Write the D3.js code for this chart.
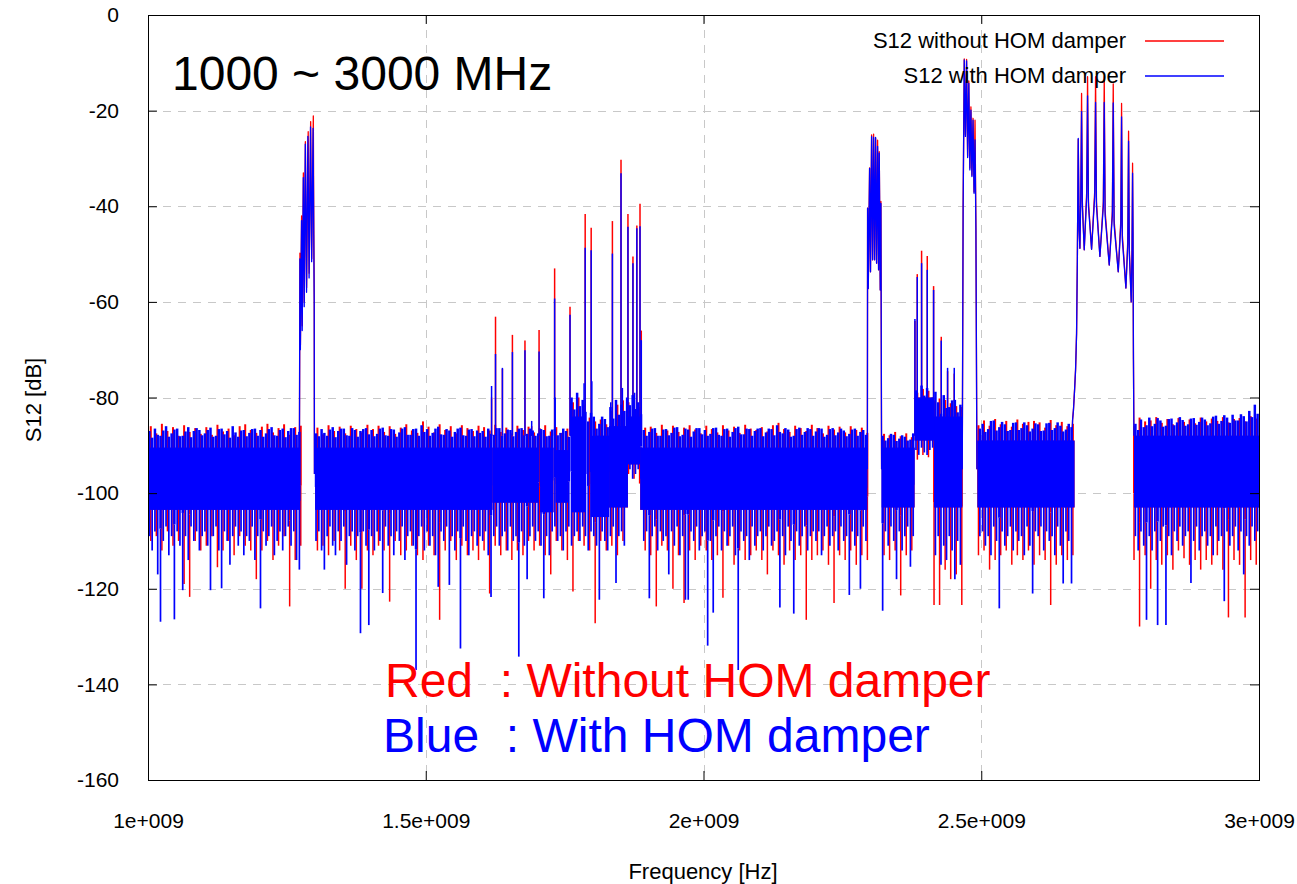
<!DOCTYPE html>
<html>
<head>
<meta charset="utf-8">
<script src="https://cdn.jsdelivr.net/npm/d3@7"></script>
<style>
  body { margin: 0; background: #fff; }
  svg text { font-family: Arial, "Liberation Sans", sans-serif; }
</style>
</head>
<body>
<svg id="chart" width="1297" height="884"></svg>
<script>
// axis ticks
const xTickValues = [1000, 1500, 2000, 2500, 3000];          // MHz
const xTickLabels = ["1e+009", "1.5e+009", "2e+009", "2.5e+009", "3e+009"];
const yTicks = [0, -20, -40, -60, -80, -100, -120, -140, -160];

// noise floor, top and bottom of the trace in each bin (dB), bins start at 1000 MHz
const binStart = 1000;
// with damper: 5 MHz bins, one row = 100 MHz
const blueStep = 5;
const blueHi = [
  -87, -88.4, -86.5, -87.8, -88, -86.9, -86, -88.2, -87.5, -86.7, -86.5, -88.1, -88, -87.1, -86.2, -88.3, -87, -86.4, -86.8, -87.9,
  -87.5, -86.8, -86.3, -88.2, -88, -86.6, -86.5, -87.7, -87, -88.4, -86, -87.3, -88.2, -86.9, -86.8, -88.1, -87.4, -86.6, -86.5, -88,
  -86.8, -88.2, -87.5, -86.6, -86.2, -87.9, -88, -86.8, -86.5, -88.3, -87, -86.4, -86.4, -87.8, -87.2, null, null, null, null, null,
  -87.5, -88.1, -86.6, -87.4, -88, -86.7, -86.2, -88.3, -87, -86.5, -86.5, -87.9, -88, -86.4, -86.8, -88.2, -87, -86.6, -86.4, -87.7,
  -86.8, -88.1, -87.6, -86.5, -86.3, -87.9, -88, -86.6, -86.7, -88.2, -87.3, -86.5, -86.2, -87.8, -87.8, -86.6, -86.5, -88, -85.8, -87.2,
  -86.6, -88, -87.4, -86.5, -86.1, -87.7, -87.8, -86.6, -86.9, -88.2, -87.2, -86.5, -86.3, -87.9, -88, -86.7, -86.6, -88.1, -86.9, -87.4,
  -87, -88.2, -86.5, -87.6, -87.8, -86.4, -86.4, -88, -87.5, -86.7, -86.8, -88.1, -87.2, -86.5, -86.4, -87.9, -87.6, -86.5, -86.9, -88,
  -87.5, -86.6, -86.8, -88.1, -88, -86.7, -86.6, -87.9, -87.4, -86.5, -87, -88.2, -80, -82.5, -79, -81.8, -80.5, -83, -85, -83.2,
  -84, -86.5, -85.5, -84, -84.5, -86.2, -82, -84.4, -80.5, -83.6, -81.5, -82.8, -80, -81.6, -79.5, -82.4, -81, -83.5, -86.8, -88,
  -87.2, -86.5, -86.4, -88, -88, -86.7, -86.6, -87.9, -87.4, -86.3, -86.2, -88.1, -87.8, -86.5, -86.7, -88.2, -87.1, -86.4, -86.4, -87.7,
  -86.8, -88, -87.6, -86.4, -86.3, -87.8, -88, -86.6, -86.5, -88.2, -87.2, -86.4, -86.1, -87.7, -87.7, -86.5, -86.6, -88, -87, -86.5,
  -86.4, -88.1, -87.3, -86.5, -86.6, -87.9, -85.8, -87.2, -87.5, -86.4, -86.7, -88.2, -88, -86.6, -86.3, -87.8, -87.2, -86.4, -86.6, -88,
  -87.1, -86.4, -86.5, -88.2, -87.8, -86.6, -86.4, -87.9, -87.3, -86.5, -86.9, -88.1, -87.6, -86.7, -86.5, -88, -87.2, -86.8, -87.8, null,
  null, null, null, null, -88, -89, -88.5, -87.6, -87.8, -89.1, -88.6, -87.9, -88.2, -89, -88.8, -87.5, -78.5, -80.2, -77.5, -79.6,
  -78, -80.4, -80, -78.8, -81, -83.4, -79.5, -82.2, -82, -80.6, -80.5, -83.1, -81.5, null, null, null, null, null, null, -86.5,
  -85.5, -87.2, -86.6, -84.9, -84.8, -86.9, -86.2, -85.1, -85.6, -87, -86.8, -85.3, -85.2, -86.8, -86.4, -85.2, -85.8, -87.1, -86.5, -85.4,
  -85.6, -87, -86.9, -85.4, -85.3, -86.8, -86.4, -85.2, -85.9, -87.1, -86.7, -85.5, -86.2, null, null, null, null, null, null, null,
  null, null, null, null, null, null, null, null, null, null, null, null, null, null, null, -85.5, -86.8, -84.6, -86.2, -85.8,
  -84.2, -86, -85.5, -84.3, -84.8, -86.1, -85.9, -84.5, -84.4, -85.8, -85.2, -84.1, -84.7, -85.9, -85.6, -84.4, -84.3, -85.7, -85.1, -84.2,
  -84.6, -85.8, -85.4, -84, -83.8, -85.5, -84.9, -83.7, -84.2, -85.3, -83.6, -84.8, -84.8, -83.5, -83.9, -85, -82.8, -84.1, -81.5, -83.4
];
const blueLo = [
  -109, -112, -108, -117, -126.9, -110, -107, -113, -109, -126.4, -108, -111, -120.3, -109, -114, -107, -110, -108, -112, -109,
  -108, -111, -120.3, -109, -107, -112, -119.9, -108, -110, -115, -109, -107, -111, -108, -113, -109, -110, -107, -114, -109,
  -124.1, -108, -111, -109, -107, -113, -110, -108, -112, -109, -107, -111, -108, -114, -116, null, null, null, null, null,
  -110, -108, -112, -116, -109, -107, -111, -113, -108, -110, -107, -115, -109, -108, -112, -109, -129.3, -108, -111, -127.6,
  -109, -112, -108, -110, -120.9, -107, -111, -109, -113, -108, -110, -107, -114, -109, -108, -111, -137, -109, -107, -112,
  -108, -111, -109, -113, -119.6, -108, -110, -107, -119.2, -109, -112, -108, -132.5, -107, -110, -113, -109, -108, -111, -109,
  -110, -108, -113, -121.7, -109, -107, -111, -109, -108, -112, -107, -110, -109, -134.2, -108, -111, -118, -109, -107, -110,
  -108, -111, -122, -109, -113, -108, -107, -110, -109, -112, -108, -107, -111, -109, -108, -110, -107, -109, -112, -108,
  -109, -111, -122.3, -108, -110, -112, -109, -107, -118.8, -109, -108, -111, -96, -95, -97, -96, -95, -97, -110, -108,
  -122, -109, -107, -112, -108, -110, -109, -117, -108, -111, -107, -113, -109, -122.3, -122.3, -108, -110, -107, -112, -109,
  -108, -131.9, -110, -125, -109, -107, -112, -108, -111, -109, -107, -113, -137, -108, -110, -109, -114, -107, -111, -109,
  -108, -112, -109, -107, -111, -110, -108, -123.9, -109, -113, -107, -110, -125.2, -108, -111, -109, -107, -112, -109, -108,
  -110, -108, -113, -109, -107, -111, -109, -108, -112, -107, -110, -109, -121.3, -108, -111, -109, -120, -107, -110, null,
  null, null, null, null, -124.6, -108, -111, -107, -110, -118, -108, -112, -109, -107, -115.4, -109, -91, -92, -90.5, -91.5,
  -92, -91, -90.5, -113, -109, -115, -111, -114, -109, -112, -118, -110, -115, null, null, null, null, null, null, -109,
  -108, -111, -109, -113, -107, -110, -124.1, -108, -111, -109, -107, -112, -108, -110, -109, -113, -107, -111, -121, -108,
  -109, -107, -112, -108, -110, -109, -113, -107, -111, -118.9, -108, -110, -118.9, null, null, null, null, null, null, null,
  null, null, null, null, null, null, null, null, null, null, null, null, null, null, null, -109, -112, -108, -111, -126.5,
  -109, -112, -108, -127.6, -110, -107, -127.6, -109, -113, -108, -110, -107, -111, -109, -108, -118.8, -110, -107, -112, -109,
  -108, -111, -109, -113, -107, -110, -109, -122.6, -108, -111, -109, -107, -112, -108, -117, -109, -111, -107, -110, -108
];
// without damper: 10 MHz bins, one row = 100 MHz
const redStep = 10;
const redHi = [
  -86, -87.5, -85.5, -87, -86.2, -88, -85.8, -87.2, -86.4, -87.6,
  -86.2, -87.8, -85.7, -87.1, -86.5, -87.9, -86, -85.6, -86.8, -87.4,
  -86.1, -85.5, -87.3, -86.4, -85.6, -87.8, -86.2, -85.9, null, null,
  -86.3, -87.7, -85.8, -87, -86.1, -87.5, -85.9, -86.6, -87.3, -85.7,
  -86.6, -85.9, -87.2, -86, -87.6, -86.3, -85.6, -86.9, -87.4, -85,
  -86.1, -87.3, -85.6, -86.8, -86, -87.5, -85.8, -86.4, -87, -85.9,
  -86.2, -86.9, -85.7, -87.2, -86.3, -87.5, -85.9, -86.8, -86.1, -87.3,
  -86.4, -85.8, -87.1, -86.2, -87.4, -86.5, -81, -80, -81.5, -84.2,
  -85, -84.6, -85.6, -82.8, -81.5, -80.6, -81, -80.5, -82, -86.3,
  -86.1, -87.4, -85.7, -86.9, -85.9, -87.2, -86.3, -85.8, -86.7, -87.5,
  -85.9, -86.6, -87.3, -85.8, -86.9, -86.1, -87.4, -85.7, -86.5, -86.8,
  -86.2, -87.1, -85.8, -85.3, -86.6, -87.2, -85.9, -86.4, -87, -85.7,
  -86.4, -87.5, -85.9, -86.7, -86.1, -87.3, -86, -86.8, -86.3, -87.4,
  null, null, -87.6, -87.9, -87.2, -88.1, -87.5, -88.3, -79, -78.2,
  -78.6, -80.6, -80.2, -80.5, -81.2, -81.8, -82, null, null, -85.8,
  -84.8, -85.9, -84.5, -85.6, -84.9, -86.1, -84.6, -85.5, -85.1, -84.9,
  -85.2, -86.3, -84.7, -85.8, -85.1, -86, -85.5, null, null, null,
  null, null, null, null, null, null, null, -86, -84.2, -85,
  -84.8, -84.1, -85.3, -84.5, -85.6, -84.3, -85.1, -84.6, -85.4, -84.2,
  -85, -84.4, -84.9, -84.1, -85.2, -84.5, -84.3, -85, -83.9, -84.4
];
const redLo = [
  -110, -109, -112, -108, -111, -110, -119, -121.7, -110, -112,
  -111, -109, -115.5, -112, -110, -113, -109, -111, -112, -118,
  -112, -110, -114, -111, -109, -123.7, -114, -111, null, null,
  -112, -111, -113, -110, -112, -120, -111, -114, -120, -112,
  -113, -111, -112, -122.7, -110, -113, -112, -111, -113, -114,
  -111, -113, -126.5, -112, -110, -114, -111, -113, -112, -114,
  -112, -121, -111, -113, -112, -114, -112, -113, -110, -112,
  -111, -113, -117, -110, -112, -114, -120.6, -110, -111, -112,
  -127.2, -110, -112, -111, -113, -110, -96, -97, -98, -112,
  -113, -123.7, -111, -112, -120, -113, -123, -112, -114, -111,
  -112, -114, -113, -121.9, -111, -115, -112, -114, -113, -112,
  -114, -117, -112, -113, -115, -112, -114, -113, -126.5, -114,
  -113, -112, -115, -123, -113, -114, -112, -115, -113, -114,
  null, null, -113, -114, -112, -121.4, -113, -112, -93, -92,
  -92.5, -123.4, -123.4, -116, -118, -117, -123.4, null, null, -113,
  -112, -116, -114, -113, -112, -115, -113, -114, -112, -115,
  -113, -114, -123.4, -115, -113, -114, -113, null, null, null,
  null, null, null, null, null, null, null, -114, -127.9, -113,
  -120, -114, -115, -113, -116, -112, -113.6, -115, -114, -116,
  -114, -115, -113, -116, -126, -114, -115, -126, -114, -115
];

// solid part of the noise floor: [from MHz, to MHz, top dB, bottom dB]
const coreBands = [
  [1000, 1274, -90.5, -103.5], [1301, 1620, -90.5, -103.5], [1620, 1702, -90.5, -102],
  [1706, 1730, -90.5, -104], [1734, 1756, -91, -102], [1763, 1787, -84, -104],
  [1797, 1830, -88, -105], [1830, 1864, -86, -103], [1864, 1886, -84, -94],
  [1886, 2295, -90.5, -103.5], [2321, 2380, -90.5, -103], [2380, 2415, -80, -89],
  [2415, 2466, -84, -103], [2493, 2668, -89, -103], [2775, 3000, -88, -103]
];

// resonance groups, [MHz, dB] along the trace
const redMode128 = [[1272.5,-96],[1273.5,-49.8],[1274.4,-69],[1276.5,-42],[1277.7,-65],[1279.7,-33],[1281.3,-60],[1283.3,-26.5],[1285.5,-57],[1288.4,-24.4],[1290.1,-54],[1292.8,-22.3],[1294.7,-51],[1297.6,-21.1],[1298.5,-45],[1299.3,-60],[1299.7,-96]];
const blueMode128 = [[1272.5,-96],[1273.4,-51],[1274.3,-70],[1276.4,-43],[1277.6,-66],[1279.6,-34],[1281.2,-61],[1283.2,-27],[1285.4,-58],[1287.8,-25.4],[1290,-55],[1292.6,-23.4],[1294.6,-51.6],[1297.2,-23.7],[1298.4,-46],[1299.2,-60],[1299.6,-96]];
const redMode230 = [[2295,-95],[2295.4,-40.4],[2296.6,-57.2],[2299,-32],[2300.6,-53.7],[2302.6,-25.1],[2304.4,-51.2],[2306.2,-24.9],[2308,-51.2],[2309.8,-25.8],[2311.6,-51.9],[2313.4,-26.2],[2315.2,-53.3],[2316.4,-28.6],[2318.2,-57.5],[2319.4,-39],[2320.6,-95]];
const blueMode230 = [[2295,-95],[2295.4,-40.4],[2296.6,-57.2],[2299,-32.1],[2300.6,-53.7],[2302.6,-25.4],[2304.4,-51.2],[2306.2,-25.6],[2308,-51.2],[2309.8,-25.6],[2311.6,-51.9],[2313.4,-27.5],[2315.2,-53.3],[2316.4,-28.9],[2318.2,-57.5],[2319.4,-39.4],[2320.6,-95]];
const redMode247 = [[2465.8,-95],[2467.4,-40],[2469.4,-9.2],[2471.5,-25],[2473.6,-9.3],[2475.5,-29.5],[2477.6,-13.8],[2479.5,-32],[2481.4,-19.2],[2483.2,-33.5],[2485.2,-21.6],[2487,-37],[2488.8,-22],[2490.4,-44.5],[2492.2,-95]];
const blueMode247 = [[2465.8,-95],[2467.4,-40],[2469.4,-9.4],[2471.5,-25.4],[2473.6,-9.6],[2475.5,-29.8],[2477.6,-14.3],[2479.5,-32.4],[2481.4,-19.9],[2483.2,-33.8],[2485.2,-22],[2487,-37.3],[2488.8,-26.1],[2490.4,-45],[2492.2,-95]];
const redMode272 = [[2663,-90],[2664.4,-84.7],[2666,-82.6],[2668,-78.4],[2669.8,-74.2],[2670.8,-70.1],[2671.6,-66.6],[2673,-51.2],[2674.6,-26],[2676.2,-45],[2677.6,-48.8],[2679.2,-37],[2680.6,-16.4],[2682,-39],[2685.4,-49.1],[2689.8,-37],[2691.4,-12.9],[2693,-39],[2698.6,-49],[2704.2,-37],[2705.8,-12.9],[2707.4,-39],[2713.6,-50.5],[2719.8,-39],[2721.4,-12.9],[2723,-41],[2730.4,-52.3],[2736,-41],[2737.6,-14.4],[2739.2,-43],[2746.6,-53.7],[2751.2,-43],[2752.6,-18.5],[2754,-46],[2760.4,-57.1],[2763.8,-47],[2765.2,-24.3],[2766.6,-49],[2770,-60],[2771.4,-49],[2772.4,-31],[2773.2,-45.6],[2774,-72],[2774.8,-88]];
const blueMode272 = [[2663,-90],[2664.4,-84.7],[2666,-82.6],[2668,-78.4],[2669.8,-74.2],[2670.8,-70.1],[2671.6,-66.6],[2673,-51.2],[2674.6,-25.8],[2676.2,-45],[2677.6,-48.8],[2679.2,-38],[2680.6,-20.2],[2682,-40],[2685.4,-49.1],[2689.8,-38],[2691.4,-16.9],[2693,-40],[2698.6,-49],[2704.2,-38],[2705.8,-18.3],[2707.4,-40],[2713.6,-50.5],[2719.8,-40],[2721.4,-18.3],[2723,-42],[2730.4,-52.3],[2736,-42],[2737.6,-18.4],[2739.2,-44],[2746.6,-53.7],[2751.2,-44],[2752.6,-21.3],[2754,-47],[2760.4,-57.1],[2763.8,-48],[2765.2,-26.4],[2766.6,-50],[2770,-60],[2771.4,-50],[2772.4,-33.1],[2773.2,-45.6],[2774,-72],[2774.8,-88]];

// isolated narrow peaks above the floor, [MHz, tip dB]
const redSpikes = [[1618.5,-80],[1625.6,-63.1],[1638,-74],[1656,-66.9],[1678.6,-68.1],[1690.7,-86],[1704,-65.9],[1732,-53],[1759.7,-61],[1787,-41.6],[1797.8,-44.5],[1836,-43.1],[1851.5,-30.3],[1864,-41.6],[1873,-50.5],[1880,-44],[1885.7,-39.5],[1888,-66],[2380.6,-64],[2384.8,-54.2],[2392.6,-49.3],[2402.8,-50.4],[2414.2,-56.7],[2428,-67.3],[2439.4,-74.5],[2451.4,-75]];
const blueSpikes = [[1618.5,-77.6],[1625.6,-70.9],[1638,-73.8],[1656,-70.5],[1678.6,-70.1],[1690.7,-84.9],[1704,-70.4],[1732,-59.3],[1733,-80],[1759.7,-62.7],[1761,-81],[1785,-77],[1787,-48.7],[1797.8,-49.2],[1799,-76.6],[1833,-81],[1836,-49.9],[1851.5,-33.1],[1854,-78],[1864,-44.3],[1873,-51.9],[1876,-79],[1880,-44.6],[1885.7,-44.2],[1888,-68],[2380.6,-63.6],[2384.8,-54.8],[2392.6,-51.9],[2402.8,-53.3],[2414.2,-57.5],[2428,-68.1],[2439.4,-73.8],[2451.4,-73.8]];

const RED = "#ff0000", BLUE = "#0000ff";
const FONT = "Arial, 'Liberation Sans', sans-serif";

const svg = d3.select("#chart");
const plot = { left: 148, right: 1259, top: 15, bottom: 780 };
const x = d3.scaleLinear().domain([1000, 3000]).range([plot.left, plot.right]);
const y = d3.scaleLinear().domain([-160, 0]).range([plot.bottom, plot.top]);
const crisp = v => Math.round(v) + 0.5;

// grid
const grid = svg.append("g").attr("stroke", "#c8c8c8").attr("stroke-dasharray", "8,7");
grid.selectAll("line.gy").data(yTicks.slice(1, -1)).join("line")
  .attr("x1", plot.left).attr("x2", plot.right)
  .attr("y1", d => crisp(y(d))).attr("y2", d => crisp(y(d)));
grid.selectAll("line.gx").data(xTickValues.slice(1, -1)).join("line")
  .attr("y1", plot.top).attr("y2", plot.bottom)
  .attr("x1", d => crisp(x(d))).attr("x2", d => crisp(x(d)));

svg.append("clipPath").attr("id", "clip").append("rect")
  .attr("x", plot.left).attr("y", plot.top)
  .attr("width", plot.right - plot.left).attr("height", plot.bottom - plot.top);
const dataLayer = svg.append("g").attr("clip-path", "url(#clip)");

const line = d3.line().x(d => x(d[0])).y(d => y(d[1]));

function drawTrace(color, hi, lo, step, off, wTop, wBot, modes, spikes) {
  const g = dataLayer.append("g");
  g.selectAll("rect").data(coreBands).join("rect")
    .attr("x", d => x(d[0])).attr("width", d => x(d[1]) - x(d[0]))
    .attr("y", d => y(d[2])).attr("height", d => y(d[3]) - y(d[2]))
    .attr("fill", color);
  const bins = hi.map((h, i) => ({ f: binStart + step * i + off, h: h, l: lo[i], m: (h + lo[i]) / 2 }))
    .filter(d => d.h !== null);
  // upper fringe is dense, lower fringe is streaky
  g.selectAll("line.up").data(bins).join("line").attr("class", "up")
    .attr("x1", d => x(d.f)).attr("x2", d => x(d.f))
    .attr("y1", d => y(d.m)).attr("y2", d => y(d.h))
    .attr("stroke", color).attr("stroke-width", wTop);
  g.selectAll("line.down").data(bins).join("line").attr("class", "down")
    .attr("x1", d => x(d.f)).attr("x2", d => x(d.f))
    .attr("y1", d => y(d.m)).attr("y2", d => y(d.l))
    .attr("stroke", color).attr("stroke-width", wBot);
  modes.forEach(m => g.append("path").attr("d", line(m))
    .attr("fill", "none").attr("stroke", color).attr("stroke-width", 1.3)
    .attr("stroke-linejoin", "round"));
  g.selectAll("line.spike").data(spikes).join("line").attr("class", "spike")
    .attr("x1", d => x(d[0])).attr("x2", d => x(d[0]))
    .attr("y1", y(-88)).attr("y2", d => y(d[1]))
    .attr("stroke", color).attr("stroke-width", 1.5);
}

drawTrace(RED, redHi, redLo, redStep, 5, 2, 1.5,
  [redMode128, redMode230, redMode247, redMode272], redSpikes);
drawTrace(BLUE, blueHi, blueLo, blueStep, 2.5, 2.5, 1.7,
  [blueMode128, blueMode230, blueMode247, blueMode272], blueSpikes);

// frame and inward ticks on all four sides
const axes = svg.append("g");
const noLabel = () => "";
axes.append("g").attr("transform", `translate(${plot.left},0)`)
  .call(d3.axisLeft(y).tickValues(yTicks).tickSize(-9).tickPadding(29).tickFormat(d => String(d)));
axes.append("g").attr("transform", `translate(${plot.right},0)`)
  .call(d3.axisRight(y).tickValues(yTicks).tickSize(-9).tickFormat(noLabel));
axes.append("g").attr("transform", `translate(0,${plot.bottom})`)
  .call(d3.axisBottom(x).tickValues(xTickValues).tickSize(-9).tickPadding(33).tickFormat((d, i) => xTickLabels[i]));
axes.append("g").attr("transform", `translate(0,${plot.top})`)
  .call(d3.axisTop(x).tickValues(xTickValues).tickSize(-9).tickFormat(noLabel));
axes.selectAll(".domain").remove();
axes.selectAll(":scope > g").attr("font-size", 21).attr("font-family", FONT);
axes.selectAll(".tick line").attr("stroke", "#000");
axes.selectAll("text").attr("fill", "#000");

svg.append("rect")
  .attr("x", plot.left + 0.5).attr("y", plot.top + 0.5)
  .attr("width", plot.right - plot.left).attr("height", plot.bottom - plot.top)
  .attr("fill", "none").attr("stroke", "#000");

// axis titles
svg.append("text").attr("x", 703).attr("y", 879).attr("text-anchor", "middle")
  .attr("font-size", 22).text("Frequency [Hz]");
svg.append("text").attr("transform", "translate(41,400) rotate(-90)").attr("text-anchor", "middle")
  .attr("font-size", 22).text("S12 [dB]");

// key
const keyRows = [
  { label: "S12 without HOM damper", color: RED, y: 41 },
  { label: "S12 with HOM damper", color: BLUE, y: 76 }
];
keyRows.forEach(r => {
  svg.append("text").attr("x", 1126).attr("y", r.y + 7).attr("text-anchor", "end")
    .attr("font-size", 22).text(r.label);
  svg.append("line").attr("x1", 1145).attr("x2", 1224)
    .attr("y1", r.y).attr("y2", r.y)
    .attr("stroke", r.color).attr("stroke-width", 1.4);
});

// annotations
svg.append("text").attr("x", 172).attr("y", 90).attr("font-size", 48).text("1000 ~ 3000 MHz");
svg.append("text").attr("x", 385).attr("y", 697).attr("font-size", 48)
  .attr("fill", RED).style("white-space", "pre").text("Red  : Without HOM damper");
svg.append("text").attr("x", 383).attr("y", 752).attr("font-size", 48)
  .attr("fill", BLUE).style("white-space", "pre").text("Blue  : With HOM damper");
</script>
</body>
</html>
